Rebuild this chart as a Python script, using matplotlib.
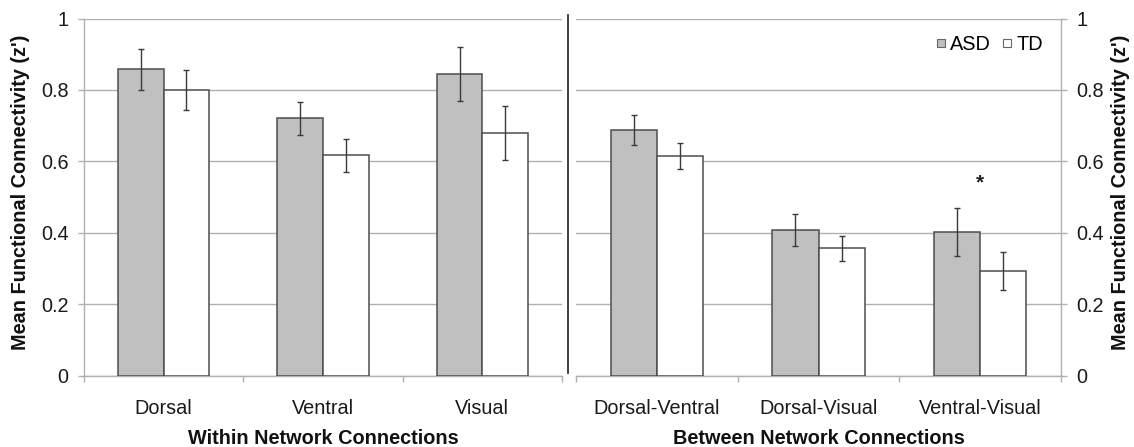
import matplotlib
matplotlib.use("Agg")
import matplotlib.pyplot as plt
import numpy as np
from matplotlib.lines import Line2D

plt.rcParams['font.family'] = ['Liberation Sans', 'DejaVu Sans']

# ---- data ----
within_cats = ["Dorsal", "Ventral", "Visual"]
within_asd = [0.858, 0.721, 0.844]
within_asd_err = [0.057, 0.046, 0.076]
within_td = [0.800, 0.617, 0.679]
within_td_err = [0.057, 0.046, 0.076]

between_cats = ["Dorsal-Ventral", "Dorsal-Visual", "Ventral-Visual"]
between_asd = [0.687, 0.408, 0.402]
between_asd_err = [0.042, 0.044, 0.068]
between_td = [0.615, 0.356, 0.293]
between_td_err = [0.037, 0.036, 0.053]

yticks = [0, 0.2, 0.4, 0.6, 0.8, 1.0]
ytick_labels = ["0", "0.2", "0.4", "0.6", "0.8", "1"]
ylabel = "Mean Functional Connectivity (z')"
within_title = "Within Network Connections"
between_title = "Between Network Connections"
legend_labels = ["ASD", "TD"]
sig_marker = "*"
sig_index = 2
sig_y = 0.54

# ---- style ----
W, H = 1134, 447
DPI = 100
FS = 14.3
ASD_COLOR = "#c0c0c0"
TD_COLOR = "#ffffff"
EDGE = "#4d4d4d"
GRID = "#b0b0b0"
ERR = "#3a3a3a"
TXT = "#1a1a1a"
BAR_W = 0.286

fig = plt.figure(figsize=(W / DPI, H / DPI), dpi=DPI)
ax1 = fig.add_axes([84 / W, 1 - 375.5 / H, (562 - 84) / W, 357 / H])
ax2 = fig.add_axes([576 / W, 1 - 375.5 / H, (1061 - 576) / W, 357 / H])


def draw(ax, cats, asd, asd_err, td, td_err, title, side):
    x = np.arange(len(cats))
    ax.bar(x - BAR_W / 2, asd, BAR_W, color=ASD_COLOR, edgecolor=EDGE,
           linewidth=1.1, zorder=3)
    ax.bar(x + BAR_W / 2, td, BAR_W, color=TD_COLOR, edgecolor=EDGE,
           linewidth=1.1, zorder=3)
    ax.errorbar(x - BAR_W / 2, asd, yerr=asd_err, fmt='none', ecolor=ERR,
                elinewidth=1.0, capsize=2.0, capthick=1.0, zorder=4)
    ax.errorbar(x + BAR_W / 2, td, yerr=td_err, fmt='none', ecolor=ERR,
                elinewidth=1.0, capsize=2.0, capthick=1.0, zorder=4)
    ax.set_xlim(-0.5, len(cats) - 0.5)
    ax.set_ylim(0, 1)
    ax.set_yticks(yticks)
    ax.set_yticklabels(ytick_labels)
    ax.yaxis.grid(True, color=GRID, linewidth=1.0, zorder=0)
    ax.set_axisbelow(True)
    # boundaries as major ticks, labels on minor ticks
    ax.set_xticks(np.arange(len(cats) + 1) - 0.5)
    ax.set_xticklabels([])
    ax.set_xticks(x, minor=True)
    ax.set_xticklabels(cats, minor=True, fontsize=FS, color=TXT)
    ax.tick_params(axis='x', which='major', length=4, width=1.0, color=GRID,
                   direction='out')
    ax.tick_params(axis='x', which='minor', length=0, pad=17)
    ax.tick_params(axis='y', length=4, width=1.0, color=GRID,
                   labelsize=FS, labelcolor=TXT, pad=7)
    for s in ax.spines.values():
        s.set_color(GRID)
        s.set_linewidth(1.0)
    ax.spines['top'].set_visible(False)
    if side == 'left':
        ax.spines['right'].set_visible(False)
        ax.yaxis.tick_left()
        ax.yaxis.set_label_position('left')
    else:
        ax.spines['left'].set_visible(False)
        ax.yaxis.tick_right()
        ax.yaxis.set_label_position('right')
    ax.set_ylabel(ylabel, fontsize=FS, fontweight='bold', color="#111111",
                  rotation=90, va='center', ha='center')
    if side == 'left':
        ax.yaxis.set_label_coords((20 - 84) / 478, (375.5 - 192) / 357)
    else:
        ax.yaxis.set_label_coords((1120 - 576) / 485, (375.5 - 192) / 357)
    ax.annotate(title, xy=(0.5, 0), xycoords='axes fraction',
                xytext=(0, -45.5), textcoords='offset points',
                ha='center', va='center', fontsize=FS, fontweight='bold',
                color="#111111")
    return x


draw(ax1, within_cats, within_asd, within_asd_err, within_td, within_td_err,
     within_title, 'left')
xb = draw(ax2, between_cats, between_asd, between_asd_err, between_td,
          between_td_err, between_title, 'right')

ax2.text(xb[sig_index], sig_y, sig_marker, ha='center', va='center',
         fontsize=15, fontweight='bold', color="#222222", zorder=5)

handles = [Line2D([], [], marker='s', linestyle='none', markersize=5.5,
                  markerfacecolor=ASD_COLOR, markeredgecolor="#666666",
                  markeredgewidth=0.8),
           Line2D([], [], marker='s', linestyle='none', markersize=5.5,
                  markerfacecolor=TD_COLOR, markeredgecolor="#666666",
                  markeredgewidth=0.8)]
ax2.legend(handles, legend_labels, loc='center right',
           bbox_to_anchor=((1043 - 576) / 485, (375.5 - 44) / 357),
           ncol=2, frameon=False, fontsize=FS, handlelength=0.5,
           handletextpad=0.2, columnspacing=0.6, borderpad=0,
           borderaxespad=0)

# separator line between panels
fig.add_artist(Line2D([567.5 / W, 567.5 / W], [1 - 15 / H, 1 - 373 / H],
                      transform=fig.transFigure, color="#333333",
                      linewidth=1.3))

fig.savefig("out.png", dpi=DPI)
